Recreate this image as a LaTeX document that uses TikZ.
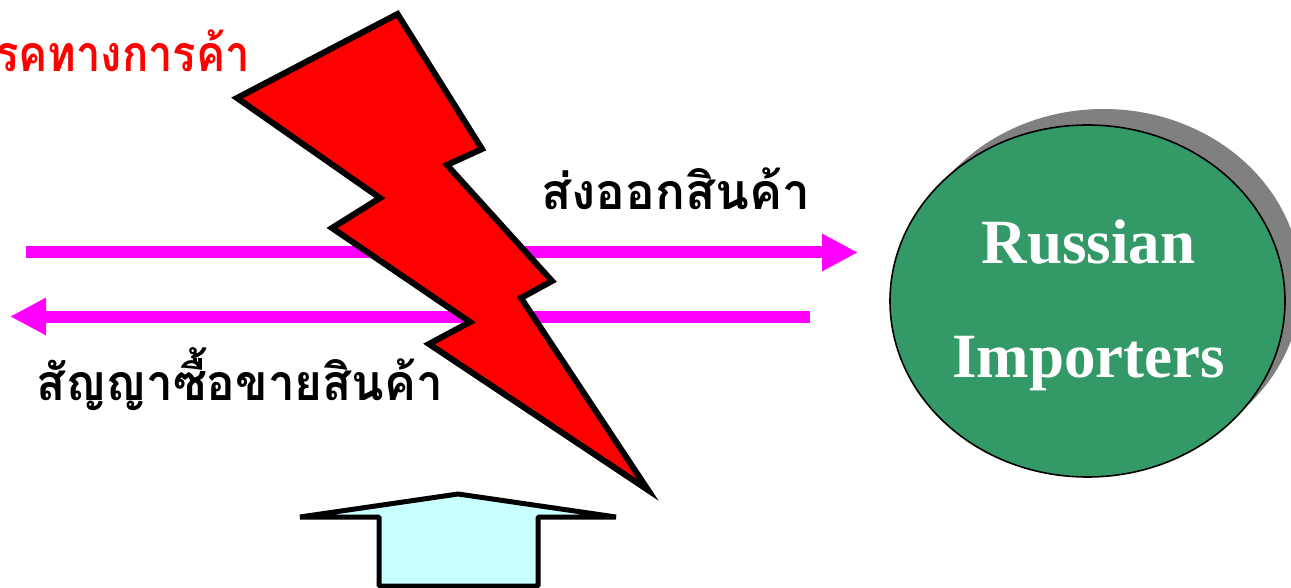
\documentclass[tikz,border=0pt]{standalone}
\usepackage{fontspec}
\usetikzlibrary{arrows.meta,shapes.geometric}
\setmainfont{Liberation Serif}
\newfontfamily\thaifont[Script=Thai]{Loma}
\definecolor{bolt}{HTML}{FF0000}
\definecolor{flow}{HTML}{FF00FF}
\definecolor{paleup}{HTML}{C8FFFF}
\definecolor{importer}{HTML}{339966}
\definecolor{shade}{HTML}{808080}
\tikzset{
  flowline/.style={draw=flow,line width=12pt,-{Triangle[length=36pt,width=35pt]}},
  thailabel/.style={inner sep=0pt,transform shape,font=\thaifont\bfseries\fontsize{50}{54}\selectfont},
  engl/.style={inner sep=0pt,text=white,font=\bfseries\fontsize{63}{70}\selectfont},
  heavy/.style={draw=black,line width=6pt,miter limit=20,line join=miter},
  headbox/.style={draw=black,line width=5pt,miter limit=1,line join=miter},
  disc/.style={ellipse,inner sep=0pt,minimum width=395pt,minimum height=352pt}
}
\begin{document}
\begin{tikzpicture}[x=1pt,y=-1pt]
\useasboundingbox (0,0) rectangle (1291,588);
\clip (0,0) rectangle (1291,588);
\fill[white] (0,0) rectangle (1291,588);
\coordinate (aS) at (26,252.5);
\coordinate (aE) at (858,252.5);
\coordinate (bS) at (810,316.5);
\coordinate (bE) at (10,316.5);
\draw[flowline] (aS) -- (aE);
\draw[flowline] (bS) -- (bE);
\node[disc,fill=shade] (shadow) at (1103.5,285) {};
\node[disc,draw=black,line width=1.6pt,fill=importer] (importers) at (1087.5,301) {};
\node[engl,anchor=base] (ru) at (1088.5,263.5) {Russian};
\node[engl,anchor=base] (im) at (1088.5,377.5) {Importers};
\draw[heavy,fill=bolt] (397.5,14) -- (482,149) -- (447,165) -- (552,281) -- (521,298) -- (648,490)
  -- (429,344) -- (470,322) -- (332,228) -- (380,198) -- (237,98) -- cycle;
\draw[headbox,fill=paleup] (458,494) -- (616,517) -- (538,517) -- (538,586) -- (379,586) -- (379,517) -- (300,517) -- cycle;
\begin{scope}[xscale=.87]
\node[thailabel,text=bolt,anchor=base east] (trade) at (250/.87,72) {รคทางการค้า};
\end{scope}
\begin{scope}[xscale=.99]
\node[thailabel,anchor=base west] (export) at (541/.99,210) {ส่งออกสินค้า};
\end{scope}
\begin{scope}[xscale=.953]
\node[thailabel,anchor=base west] (contract) at (36/.953,400) {สัญญาซื้อขายสินค้า};
\end{scope}
\end{tikzpicture}
\end{document}
